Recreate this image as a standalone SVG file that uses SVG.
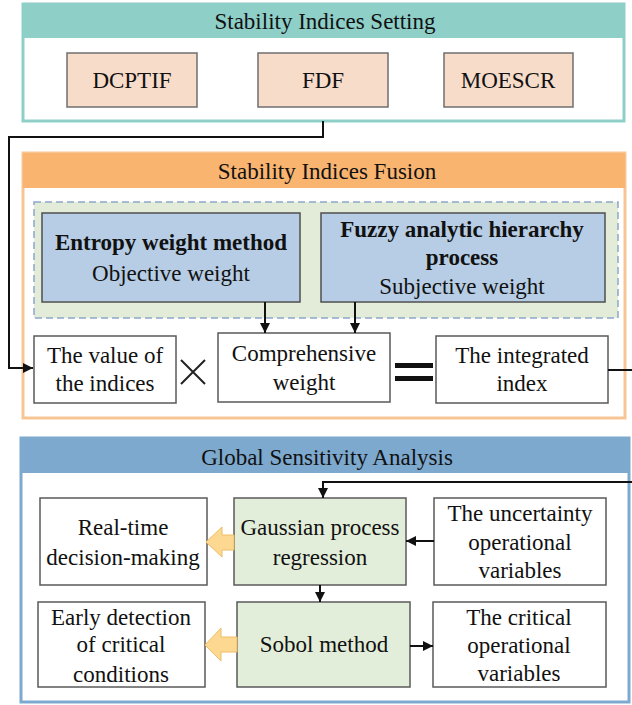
<svg xmlns="http://www.w3.org/2000/svg" width="632" height="705" viewBox="0 0 632 705">
<style>
text{font-family:"Liberation Serif","Times New Roman",serif;font-size:23px;fill:#111;text-anchor:middle}
.b{font-weight:bold}
.box{fill:#fff;stroke:#5a5a5a;stroke-width:1.5}
.peach{fill:#F8DCCA;stroke:#6f6f6f;stroke-width:1.5}
.blue{fill:#B6CDE5;stroke:#4f4f4f;stroke-width:1.5}
.green{fill:#E2EED9;stroke:#5a5a5a;stroke-width:1.5}
.line{fill:none;stroke:#111;stroke-width:2}
.yarrow{fill:#FCD891;stroke:#EDBE66;stroke-width:1}
</style>
<defs>
<marker id="ah" viewBox="0 0 10 10" refX="10" refY="5" markerWidth="5" markerHeight="5" orient="auto" markerUnits="strokeWidth">
<path d="M0,0 L10,5 L0,10 z" fill="#111"/>
</marker>
</defs>
<rect width="632" height="705" fill="#fff"/>

<g id="sec-setting">
<rect x="23" y="4" width="601" height="117" fill="#fff" stroke="#8ECFC8" stroke-width="3"/>
<rect x="23" y="4" width="601" height="34" fill="#8ECFC8"/>
<text x="325" y="29">Stability Indices Setting</text>
</g>
<g id="dcptif"><rect class="peach" x="67" y="53" width="130" height="54"/><text x="132" y="88">DCPTIF</text></g>
<g id="fdf"><rect class="peach" x="258" y="53" width="130" height="54"/><text x="323" y="88">FDF</text></g>
<g id="moescr"><rect class="peach" x="444" y="53" width="129" height="54"/><text x="508" y="88">MOESCR</text></g>

<g id="sec-fusion">
<rect x="23" y="153" width="602" height="265" fill="#fff" stroke="#F7C594" stroke-width="3"/>
<rect x="23" y="153" width="602" height="35" fill="#F9B470"/>
<text x="327" y="179">Stability Indices Fusion</text>
</g>
<g id="weights-group">
<rect x="34" y="202" width="584" height="116" fill="#E3EBD9" stroke="#8FA8CB" stroke-width="1.5" stroke-dasharray="7 4"/>
</g>
<g id="entropy"><rect class="blue" x="42" y="213" width="258" height="89"/>
<text class="b" x="171" y="250">Entropy weight method</text>
<text x="171" y="281">Objective weight</text></g>
<g id="fahp"><rect class="blue" x="321" y="213" width="284" height="89"/>
<text class="b" x="462" y="237">Fuzzy analytic hierarchy</text>
<text class="b" x="462" y="265">process</text>
<text x="462" y="294">Subjective weight</text></g>
<g id="value"><rect class="box" x="34" y="336" width="142" height="67"/>
<text x="105" y="363">The value of</text><text x="105" y="391">the indices</text></g>
<g id="times-op"><path d="M181,360 L205,384 M205,360 L181,384" stroke="#222" stroke-width="2" fill="none"/></g>
<g id="comprehensive"><rect class="box" x="218" y="333" width="172" height="69"/>
<text x="304" y="361">Comprehensive</text><text x="304" y="390">weight</text></g>
<g id="equals-op"><rect x="395" y="363" width="38" height="5" fill="#111"/><rect x="395" y="376" width="38" height="5" fill="#111"/></g>
<g id="integrated"><rect class="box" x="436" y="336" width="172" height="67"/>
<text x="522" y="363">The integrated</text><text x="522" y="391">index</text></g>

<g id="sec-gsa">
<rect x="21" y="438" width="608" height="264" fill="#fff" stroke="#7DA9CF" stroke-width="3"/>
<rect x="21" y="438" width="608" height="35" fill="#7DA9CF"/>
<text x="327" y="465">Global Sensitivity Analysis</text>
</g>
<g id="realtime"><rect class="box" x="40" y="498" width="167" height="87"/>
<text x="123" y="535">Real-time</text><text x="123" y="565">decision-making</text></g>
<g id="gpr"><rect class="green" x="234" y="498" width="172" height="87"/>
<text x="320" y="535">Gaussian process</text><text x="320" y="565">regression</text></g>
<g id="uncertainty"><rect class="box" x="434" y="498" width="172" height="87"/>
<text x="520" y="521">The uncertainty</text><text x="520" y="550">operational</text><text x="520" y="578">variables</text></g>
<g id="early"><rect class="box" x="38" y="602" width="167" height="85"/>
<text x="121" y="625">Early detection</text><text x="121" y="652">of critical</text><text x="121" y="682">conditions</text></g>
<g id="sobol"><rect class="green" x="237" y="602" width="173" height="85"/>
<text x="324" y="652">Sobol method</text></g>
<g id="critical"><rect class="box" x="433" y="602" width="173" height="85"/>
<text x="519" y="625">The critical</text><text x="519" y="653">operational</text><text x="519" y="681">variables</text></g>

<g id="connectors">
<path class="line" d="M323,121 V137 H9 V368 H33" marker-end="url(#ah)"/>
<path class="line" d="M265,302 V333" marker-end="url(#ah)"/>
<path class="line" d="M355,302 V333" marker-end="url(#ah)"/>
<path class="line" d="M608,370 H640 V482 H323 V498" marker-end="url(#ah)"/>
<path class="line" d="M434,541 H406" marker-end="url(#ah)"/>
<path class="line" d="M320,585 V602" marker-end="url(#ah)"/>
<path class="line" d="M410,646 H433" marker-end="url(#ah)"/>
<polygon class="yarrow" points="234,535 222,535 222,527 206,542 222,557 222,550 234,550"/>
<polygon class="yarrow" points="237,637 221,637 221,628 205,645 221,661 221,652 237,652"/>
</g>
</svg>
